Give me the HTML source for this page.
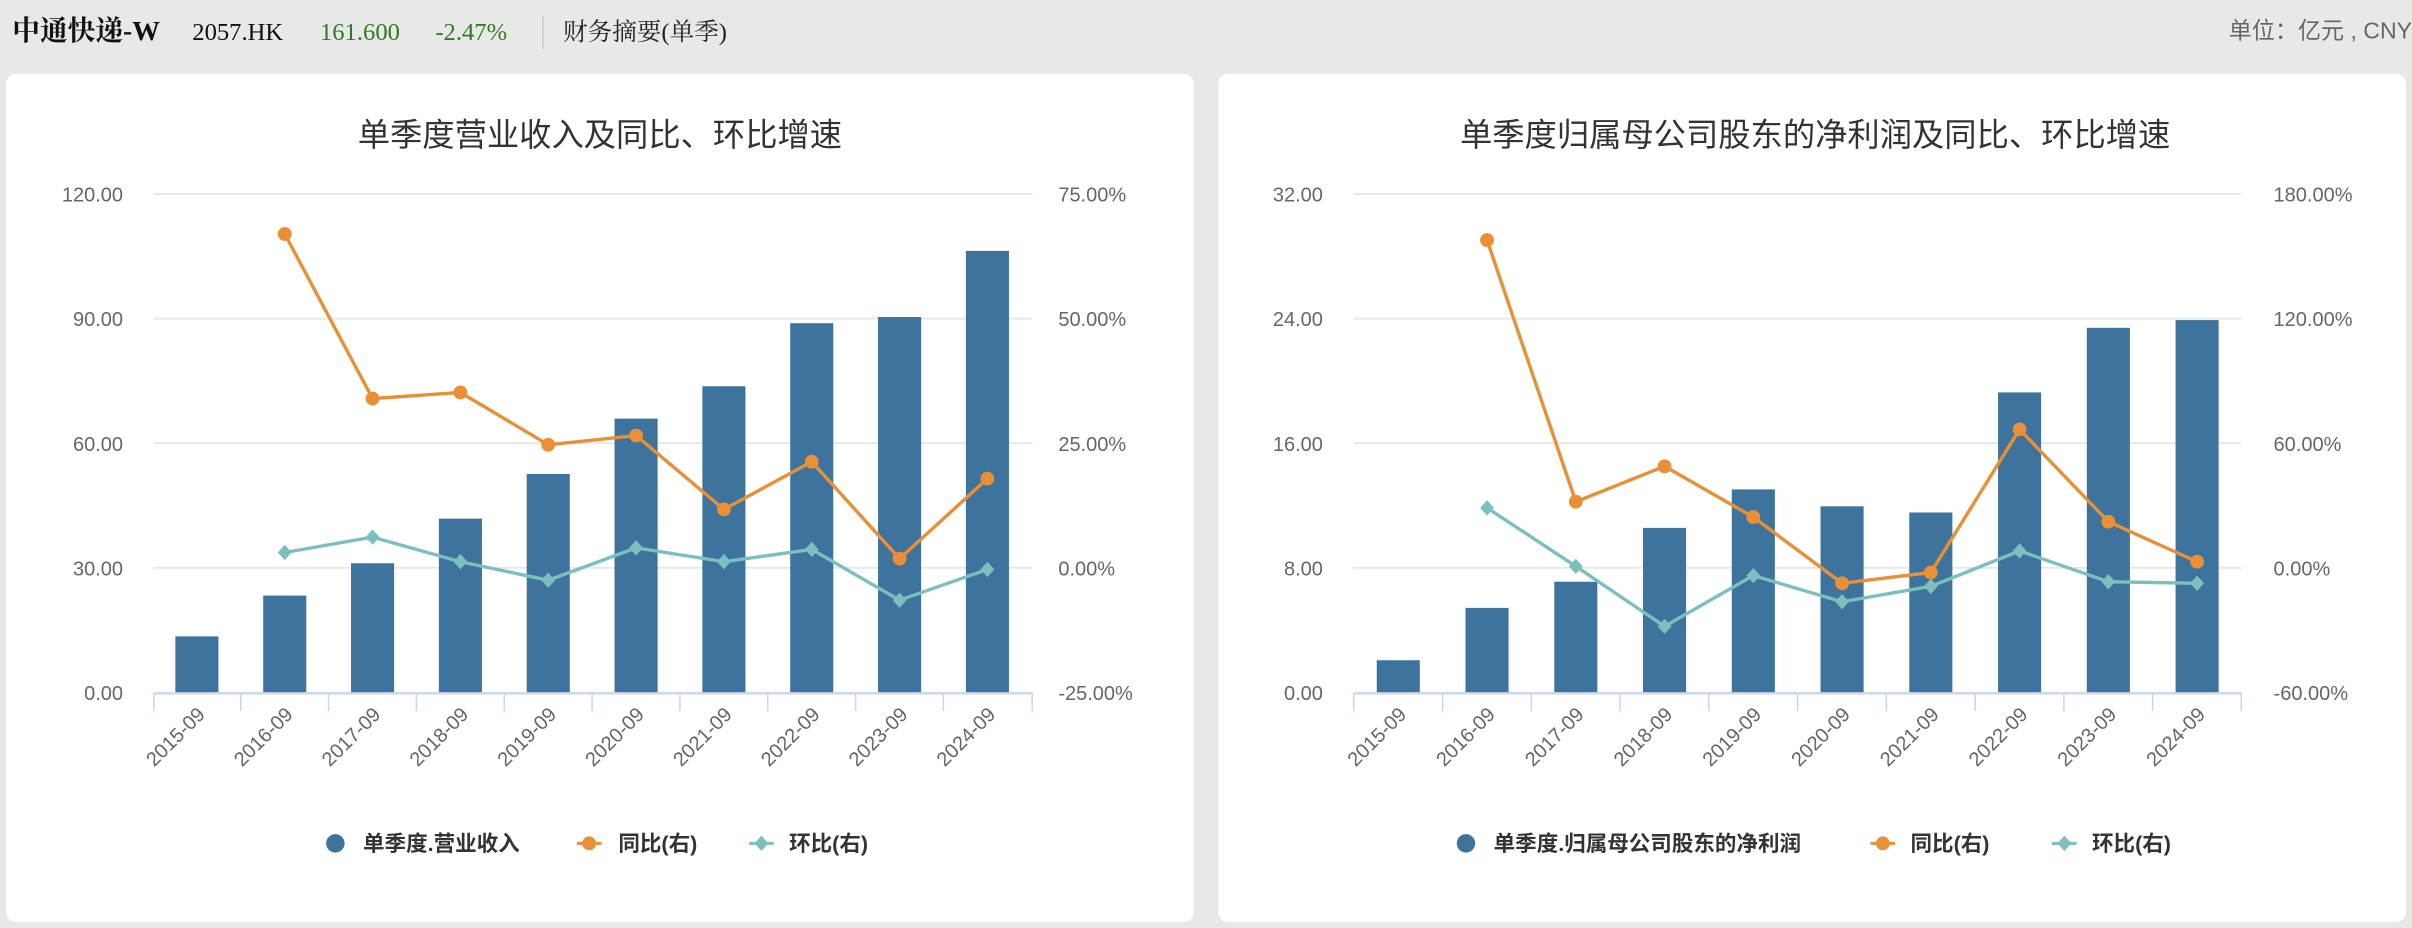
<!DOCTYPE html>
<html><head><meta charset="utf-8"><style>
html,body{margin:0;padding:0;background:#e8e8e8;}
svg{display:block;font-family:"Liberation Sans","Noto Sans CJK SC",sans-serif;}
</style></head><body>
<svg width="2412" height="928" viewBox="0 0 1568 603" preserveAspectRatio="none" xmlns="http://www.w3.org/2000/svg">
<rect width="1568" height="603" fill="#e8e8e8"/>
<text x="8" y="26" font-size="18" font-weight="bold" fill="#111" font-family="Liberation Serif,Noto Serif CJK SC,serif">中通快递-W</text>
<text x="125" y="26" font-size="16" fill="#111" font-family="Liberation Serif,serif">2057.HK</text>
<text x="208" y="26" font-size="16" fill="#2e7d1e" font-family="Liberation Serif,serif">161.600</text>
<text x="283" y="26" font-size="16" fill="#2e7d1e" font-family="Liberation Serif,serif">-2.47%</text>
<line x1="353" y1="10" x2="353" y2="32" stroke="#ccc"/>
<text x="366" y="26" font-size="16" fill="#222" font-family="Liberation Serif,Noto Serif CJK SC,serif">财务摘要(单季)</text>
<text x="1568" y="25" font-size="15" fill="#666" text-anchor="end">单位：亿元 , CNY</text>
<rect x="4" y="48" width="772" height="551" rx="6" fill="#fff"/>
<rect x="792" y="48" width="772" height="551" rx="6" fill="#fff"/>
<g id="c1">
<text x="390" y="95" font-size="21" fill="#333" text-anchor="middle">单季度营业收入及同比、环比增速</text>
<g stroke="#e6e6e6" stroke-width="1.2"><line x1="100" y1="126" x2="671" y2="126"/><line x1="100" y1="207" x2="671" y2="207"/><line x1="100" y1="288" x2="671" y2="288"/><line x1="100" y1="369" x2="671" y2="369"/></g>
<g font-size="13" fill="#666" text-anchor="end"><text x="80" y="131">120.00</text><text x="80" y="212">90.00</text><text x="80" y="293">60.00</text><text x="80" y="374">30.00</text><text x="80" y="455">0.00</text></g>
<g font-size="13" fill="#666"><text x="688" y="131">75.00%</text><text x="688" y="212">50.00%</text><text x="688" y="293">25.00%</text><text x="688" y="374">0.00%</text><text x="688" y="455">-25.00%</text></g>
<g fill="#3d739c">
<rect x="114" y="413.5" width="28" height="36.5"/><rect x="171.1" y="387" width="28" height="63"/><rect x="228.2" y="366" width="28" height="84"/><rect x="285.3" y="337" width="28" height="113"/><rect x="342.4" y="308" width="28" height="142"/><rect x="399.5" y="272" width="28" height="178"/><rect x="456.6" y="251" width="28" height="199"/><rect x="513.7" y="210" width="28" height="240"/><rect x="570.8" y="206" width="28" height="244"/><rect x="627.9" y="163" width="28" height="287"/>
</g>
<line x1="100" y1="450.5" x2="671" y2="450.5" stroke="#ccd6eb" stroke-width="1.5"/>
<g stroke="#ccd6eb"><line x1="100" y1="450" x2="100" y2="462"/><line x1="156.5" y1="450" x2="156.5" y2="462"/><line x1="213.6" y1="450" x2="213.6" y2="462"/><line x1="270.7" y1="450" x2="270.7" y2="462"/><line x1="327.8" y1="450" x2="327.8" y2="462"/><line x1="384.9" y1="450" x2="384.9" y2="462"/><line x1="442" y1="450" x2="442" y2="462"/><line x1="499.1" y1="450" x2="499.1" y2="462"/><line x1="556.2" y1="450" x2="556.2" y2="462"/><line x1="613.3" y1="450" x2="613.3" y2="462"/><line x1="671" y1="450" x2="671" y2="462"/></g>
<g font-size="13" fill="#666" text-anchor="end">
<text transform="translate(134,465) rotate(-45)">2015-09</text><text transform="translate(191.1,465) rotate(-45)">2016-09</text><text transform="translate(248.2,465) rotate(-45)">2017-09</text><text transform="translate(305.3,465) rotate(-45)">2018-09</text><text transform="translate(362.4,465) rotate(-45)">2019-09</text><text transform="translate(419.5,465) rotate(-45)">2020-09</text><text transform="translate(476.6,465) rotate(-45)">2021-09</text><text transform="translate(533.7,465) rotate(-45)">2022-09</text><text transform="translate(590.8,465) rotate(-45)">2023-09</text><text transform="translate(647.9,465) rotate(-45)">2024-09</text>
</g>
<polyline fill="none" stroke="#7bbfbf" stroke-width="2.2" points="185.1,359 242.2,349 299.3,365 356.4,377 413.5,356 470.6,365 527.7,357 584.8,390 641.9,370"/>
<g fill="#7bbfbf"><path d="M185.1,354l4.5,5l-4.5,5l-4.5,-5z"/><path d="M242.2,344l4.5,5l-4.5,5l-4.5,-5z"/><path d="M299.3,360l4.5,5l-4.5,5l-4.5,-5z"/><path d="M356.4,372l4.5,5l-4.5,5l-4.5,-5z"/><path d="M413.5,351l4.5,5l-4.5,5l-4.5,-5z"/><path d="M470.6,360l4.5,5l-4.5,5l-4.5,-5z"/><path d="M527.7,352l4.5,5l-4.5,5l-4.5,-5z"/><path d="M584.8,385l4.5,5l-4.5,5l-4.5,-5z"/><path d="M641.9,365l4.5,5l-4.5,5l-4.5,-5z"/></g>
<polyline fill="none" stroke="#e98f36" stroke-width="2.2" points="185.1,152 242.2,259 299.3,255 356.4,289 413.5,283 470.6,331 527.7,300 584.8,363 641.9,311"/>
<g fill="#e98f36"><circle cx="185.1" cy="152" r="4.5"/><circle cx="242.2" cy="259" r="4.5"/><circle cx="299.3" cy="255" r="4.5"/><circle cx="356.4" cy="289" r="4.5"/><circle cx="413.5" cy="283" r="4.5"/><circle cx="470.6" cy="331" r="4.5"/><circle cx="527.7" cy="300" r="4.5"/><circle cx="584.8" cy="363" r="4.5"/><circle cx="641.9" cy="311" r="4.5"/></g>
<g font-size="14" font-weight="bold" fill="#333">
<circle cx="218" cy="548" r="6" fill="#3d739c"/><text x="236" y="553">单季度.营业收入</text>
<line x1="375" y1="548" x2="391" y2="548" stroke="#e98f36" stroke-width="2"/><circle cx="383" cy="548" r="4.5" fill="#e98f36"/><text x="402" y="553">同比(右)</text>
<line x1="487" y1="548" x2="503" y2="548" stroke="#7bbfbf" stroke-width="2"/><path d="M495,543l4.5,5l-4.5,5l-4.5,-5z" fill="#7bbfbf"/><text x="513" y="553">环比(右)</text>
</g>
</g>
<g id="c2">
<text x="1180" y="95" font-size="21" fill="#333" text-anchor="middle">单季度归属母公司股东的净利润及同比、环比增速</text>
<g stroke="#e6e6e6" stroke-width="1.2"><line x1="880" y1="126" x2="1457" y2="126"/><line x1="880" y1="207" x2="1457" y2="207"/><line x1="880" y1="288" x2="1457" y2="288"/><line x1="880" y1="369" x2="1457" y2="369"/></g>
<g font-size="13" fill="#666" text-anchor="end"><text x="860" y="131">32.00</text><text x="860" y="212">24.00</text><text x="860" y="293">16.00</text><text x="860" y="374">8.00</text><text x="860" y="455">0.00</text></g>
<g font-size="13" fill="#666"><text x="1478" y="131">180.00%</text><text x="1478" y="212">120.00%</text><text x="1478" y="293">60.00%</text><text x="1478" y="374">0.00%</text><text x="1478" y="455">-60.00%</text></g>
<g fill="#3d739c">
<rect x="895" y="429" width="28" height="21"/><rect x="952.7" y="395" width="28" height="55"/><rect x="1010.4" y="378" width="28" height="72"/><rect x="1068.1" y="343" width="28" height="107"/><rect x="1125.8" y="318" width="28" height="132"/><rect x="1183.5" y="329" width="28" height="121"/><rect x="1241.2" y="333" width="28" height="117"/><rect x="1298.9" y="255" width="28" height="195"/><rect x="1356.6" y="213" width="28" height="237"/><rect x="1414.3" y="208" width="28" height="242"/>
</g>
<line x1="880" y1="450.5" x2="1457" y2="450.5" stroke="#ccd6eb" stroke-width="1.5"/>
<g stroke="#ccd6eb"><line x1="880" y1="450" x2="880" y2="462"/><line x1="937.8" y1="450" x2="937.8" y2="462"/><line x1="995.5" y1="450" x2="995.5" y2="462"/><line x1="1053.2" y1="450" x2="1053.2" y2="462"/><line x1="1110.9" y1="450" x2="1110.9" y2="462"/><line x1="1168.6" y1="450" x2="1168.6" y2="462"/><line x1="1226.3" y1="450" x2="1226.3" y2="462"/><line x1="1284" y1="450" x2="1284" y2="462"/><line x1="1341.7" y1="450" x2="1341.7" y2="462"/><line x1="1399.4" y1="450" x2="1399.4" y2="462"/><line x1="1457" y1="450" x2="1457" y2="462"/></g>
<g font-size="13" fill="#666" text-anchor="end">
<text transform="translate(915,465) rotate(-45)">2015-09</text><text transform="translate(972.7,465) rotate(-45)">2016-09</text><text transform="translate(1030.4,465) rotate(-45)">2017-09</text><text transform="translate(1088.1,465) rotate(-45)">2018-09</text><text transform="translate(1145.8,465) rotate(-45)">2019-09</text><text transform="translate(1203.5,465) rotate(-45)">2020-09</text><text transform="translate(1261.2,465) rotate(-45)">2021-09</text><text transform="translate(1318.9,465) rotate(-45)">2022-09</text><text transform="translate(1376.6,465) rotate(-45)">2023-09</text><text transform="translate(1434.3,465) rotate(-45)">2024-09</text>
</g>
<polyline fill="none" stroke="#7bbfbf" stroke-width="2.2" points="966.7,330 1024.4,368 1082.1,407 1139.8,374 1197.5,391 1255.2,381 1312.9,358 1370.6,378 1428.3,379"/>
<g fill="#7bbfbf"><path d="M966.7,325l4.5,5l-4.5,5l-4.5,-5z"/><path d="M1024.4,363l4.5,5l-4.5,5l-4.5,-5z"/><path d="M1082.1,402l4.5,5l-4.5,5l-4.5,-5z"/><path d="M1139.8,369l4.5,5l-4.5,5l-4.5,-5z"/><path d="M1197.5,386l4.5,5l-4.5,5l-4.5,-5z"/><path d="M1255.2,376l4.5,5l-4.5,5l-4.5,-5z"/><path d="M1312.9,353l4.5,5l-4.5,5l-4.5,-5z"/><path d="M1370.6,373l4.5,5l-4.5,5l-4.5,-5z"/><path d="M1428.3,374l4.5,5l-4.5,5l-4.5,-5z"/></g>
<polyline fill="none" stroke="#e98f36" stroke-width="2.2" points="966.7,156 1024.4,326 1082.1,303 1139.8,336 1197.5,379 1255.2,372 1312.9,279 1370.6,339 1428.3,365"/>
<g fill="#e98f36"><circle cx="966.7" cy="156" r="4.5"/><circle cx="1024.4" cy="326" r="4.5"/><circle cx="1082.1" cy="303" r="4.5"/><circle cx="1139.8" cy="336" r="4.5"/><circle cx="1197.5" cy="379" r="4.5"/><circle cx="1255.2" cy="372" r="4.5"/><circle cx="1312.9" cy="279" r="4.5"/><circle cx="1370.6" cy="339" r="4.5"/><circle cx="1428.3" cy="365" r="4.5"/></g>
<g font-size="14" font-weight="bold" fill="#333">
<circle cx="953" cy="548" r="6" fill="#3d739c"/><text x="971" y="553">单季度.归属母公司股东的净利润</text>
<line x1="1216" y1="548" x2="1232" y2="548" stroke="#e98f36" stroke-width="2"/><circle cx="1224" cy="548" r="4.5" fill="#e98f36"/><text x="1242" y="553">同比(右)</text>
<line x1="1334" y1="548" x2="1350" y2="548" stroke="#7bbfbf" stroke-width="2"/><path d="M1342,543l4.5,5l-4.5,5l-4.5,-5z" fill="#7bbfbf"/><text x="1360" y="553">环比(右)</text>
</g>
</g>
</svg>
</body></html>
